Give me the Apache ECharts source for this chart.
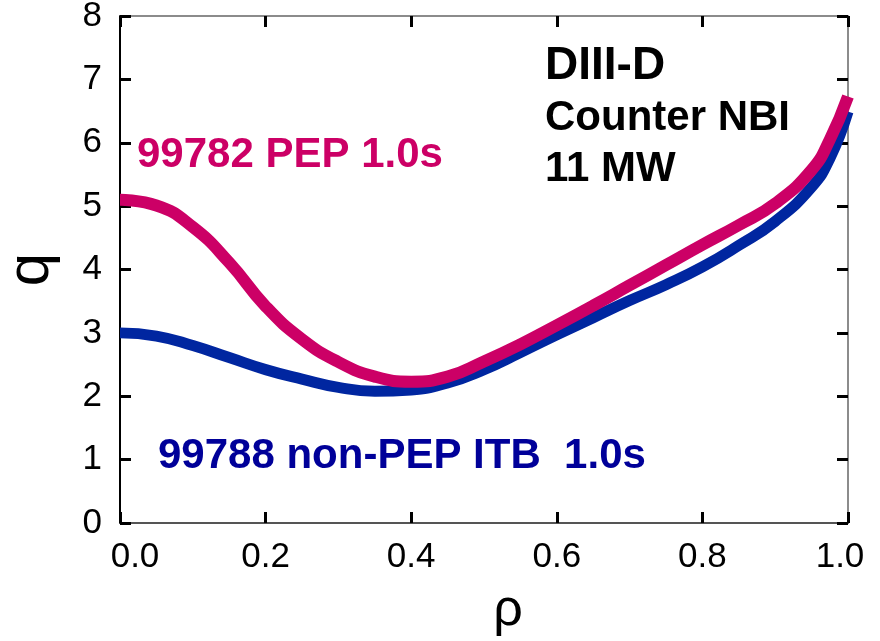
<!DOCTYPE html>
<html>
<head>
<meta charset="utf-8">
<title>q profile</title>
<script src="https://cdn.jsdelivr.net/npm/echarts@6/dist/echarts.min.js"></script>
<style>
  html, body { margin: 0; padding: 0; background: #fff; }
  #main { width: 880px; height: 641px; }
</style>
</head>
<body>
<div id="main"></div>
<script>
// q profiles
var pepRho = [0.00, 0.05, 0.10, 0.15, 0.20, 0.25, 0.30, 0.35, 0.40, 0.45, 0.50, 0.55, 0.60, 0.65, 0.70, 0.75, 0.80, 0.85, 0.90, 0.95, 0.975, 1.00];
var pepQ   = [5.10, 5.01, 4.67, 4.11, 3.42, 2.90, 2.54, 2.31, 2.23, 2.31, 2.55, 2.82, 3.12, 3.43, 3.75, 4.07, 4.39, 4.70, 5.04, 5.57, 6.05, 6.73];

var itbRho = [0.00, 0.05, 0.10, 0.15, 0.20, 0.25, 0.30, 0.35, 0.40, 0.45, 0.50, 0.55, 0.60, 0.65, 0.70, 0.75, 0.80, 0.85, 0.90, 0.95, 0.975, 1.00];
var itbQ   = [3.00, 2.95, 2.80, 2.61, 2.42, 2.27, 2.14, 2.08, 2.10, 2.21, 2.42, 2.69, 2.97, 3.24, 3.51, 3.76, 4.04, 4.38, 4.76, 5.30, 5.75, 6.49];

var pepName = '99782 PEP 1.0s';
var itbName = '99788 non-PEP ITB  1.0s';
var noteLines = ['DIII-D', 'Counter NBI', '11 MW'];

function pairs(xs, ys) {
  return xs.map(function (x, i) { return [x, ys[i]]; });
}

var FONT = '"Liberation Sans", Arial, sans-serif';
var PINK = '#cc0066';
var BLUE = '#0026a0';

function tick() {
  return { show: true, inside: true, length: 11, lineStyle: { color: '#000', width: 3 } };
}

var chart = echarts.init(document.getElementById('main'));

var option = {
  animation: false,
  grid: { left: 120, right: 32, top: 16, bottom: 118, containLabel: false, outerBoundsMode: 'none' },
  xAxis: [{
    type: 'value',
    gridIndex: 0,
    min: 0,
    max: 1,
    interval: 0.2,
    name: 'ρ',
    nameLocation: 'middle',
    nameGap: 62,
    nameTextStyle: { fontSize: 52, fontFamily: FONT, color: '#000', padding: [0, 0, 0, 48] },
    axisLine: { onZero: false, lineStyle: { color: '#555', width: 2 } },
    axisTick: tick(),
    splitLine: { show: false },
    axisLabel: {
      margin: 17,
      fontSize: 35,
      fontFamily: FONT,
      color: '#000',
      formatter: function (v) {
        if (v === 0) return '{a|0.0}';
        if (v === 1) return '{b|1.0}';
        return v.toFixed(1);
      },
      rich: {
        a: { fontSize: 35, fontFamily: FONT, color: '#000', padding: [0, 0, 0, 30] },
        b: { fontSize: 35, fontFamily: FONT, color: '#000', padding: [0, 16, 0, 0] }
      }
    }
  }, {
    type: 'value',
    gridIndex: 0,
    position: 'top',
    min: 0,
    max: 1,
    interval: 0.2,
    axisLine: { show: true, onZero: false, lineStyle: { color: '#666', width: 1.5 } },
    axisTick: tick(),
    axisLabel: { show: false },
    splitLine: { show: false }
  }],
  yAxis: [{
    type: 'value',
    gridIndex: 0,
    min: 0,
    max: 8,
    interval: 1,
    name: 'q',
    nameLocation: 'middle',
    nameGap: 59,
    nameTextStyle: { fontSize: 60, fontFamily: FONT, color: '#000' },
    axisLine: { show: true, onZero: false, lineStyle: { color: '#000', width: 2 } },
    axisTick: tick(),
    splitLine: { show: false },
    axisLabel: { margin: 18, fontSize: 35, fontFamily: FONT, color: '#000' }
  }, {
    type: 'value',
    gridIndex: 0,
    position: 'right',
    min: 0,
    max: 8,
    interval: 1,
    axisLine: { show: true, onZero: false, lineStyle: { color: '#666', width: 1.5 } },
    axisTick: tick(),
    axisLabel: { show: false },
    splitLine: { show: false }
  }],
  series: [{
    name: itbName,
    type: 'line',
    data: pairs(itbRho, itbQ),
    smooth: 0.5,
    symbol: 'none',
    clip: false,
    lineStyle: { color: BLUE, width: 11 }
  }, {
    name: pepName,
    type: 'line',
    data: pairs(pepRho, pepQ),
    smooth: 0.5,
    symbol: 'none',
    clip: false,
    lineStyle: { color: PINK, width: 12 }
  }],
  graphic: [
    { type: 'text', left: 137, top: 134, style: { text: pepName, font: 'bold 42px ' + FONT, fill: PINK } },
    { type: 'text', left: 158, top: 435, style: { text: itbName, font: 'bold 42px ' + FONT, fill: '#000099' } },
    { type: 'text', left: 545, top: 43, style: { text: noteLines[0], font: 'bold 46px ' + FONT, fill: '#000' } },
    { type: 'text', left: 545, top: 97, style: { text: noteLines[1], font: 'bold 42px ' + FONT, fill: '#000' } },
    { type: 'text', left: 545, top: 148, style: { text: noteLines[2], font: 'bold 42px ' + FONT, fill: '#000' } }
  ]
};

chart.setOption(option);
</script>
</body>
</html>
